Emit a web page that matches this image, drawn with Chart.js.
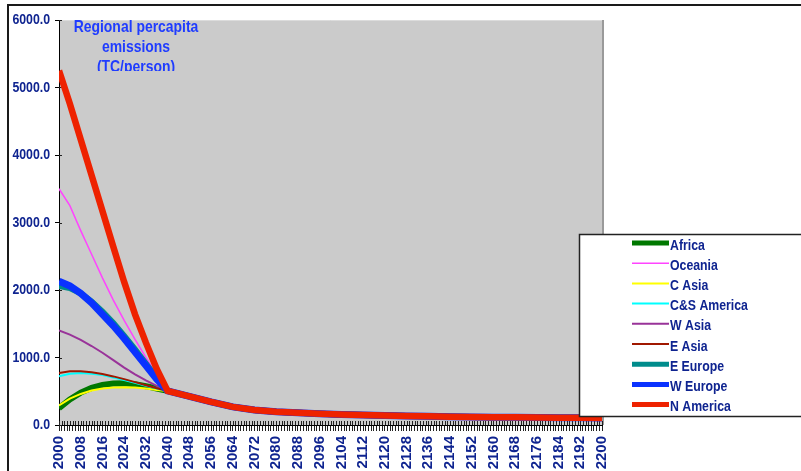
<!DOCTYPE html>
<html>
<head>
<meta charset="utf-8">
<script src="https://cdn.jsdelivr.net/npm/chart.js@4.4.1/dist/chart.umd.min.js"></script>
<style>
  html, body { margin: 0; padding: 0; background: #fff; }
  #wrap { width: 801px; height: 471px; position: relative; }
</style>
</head>
<body>
<div id="wrap"><canvas id="myChart" width="801" height="471"></canvas></div>
<script>
// years
const startYears = [2000, 2004, 2008, 2012, 2016, 2020, 2024, 2028, 2032, 2036, 2040];
const tailYears = [2048, 2056, 2064, 2072, 2080, 2088, 2096, 2104, 2112, 2120,
                   2128, 2136, 2144, 2152, 2160, 2168, 2176, 2184, 2192, 2200];
// after 2040 every region follows the same curve
const tailValues = [425, 342, 268, 222, 195, 180, 167, 157, 148, 140,
                    134, 128, 123, 119, 116, 113, 111, 109, 107, 105];

const regionNames = ["Africa", "Oceania", "C Asia", "C&S America", "W Asia", "E Asia", "E Europe", "W Europe", "N America"];
const africa    = [250, 380, 480, 550, 595, 615, 620, 605, 575, 540, 505];
const oceania   = [3500, 3250, 2880, 2530, 2180, 1850, 1550, 1270, 1000, 750, 505];
const cAsia     = [290, 390, 460, 510, 540, 555, 560, 555, 540, 520, 505];
const csAmerica = [720, 760, 770, 760, 740, 705, 665, 625, 580, 540, 505];
const wAsia     = [1400, 1340, 1260, 1170, 1070, 960, 850, 750, 660, 580, 505];
const eAsia     = [770, 795, 795, 780, 755, 720, 680, 635, 590, 545, 505];
const eEurope   = [2060, 2030, 1950, 1830, 1680, 1510, 1320, 1120, 910, 700, 505];
const wEurope   = [2130, 2060, 1950, 1810, 1640, 1470, 1280, 1080, 880, 680, 505];
const nAmerica  = [5250, 4760, 4230, 3700, 3170, 2640, 2120, 1640, 1220, 830, 505];

const yTicks = [0, 1000, 2000, 3000, 4000, 5000, 6000];

const colors = ['#007800', '#ff44ff', '#ffff00', '#00ffff', '#993399', '#a01800', '#008c8c', '#0a32ff', '#ee2200'];
const widths = [6, 1.5, 2, 2, 2, 2, 6, 7, 6.5];

const FONT = "'Liberation Sans', Arial, sans-serif";
const NAVY = '#0f2490';
const SQUEEZE = 0.82;   // the original uses a narrow bold face

function series(vals) {
    var pts = startYears.map(function(y, i) { return {x: y, y: vals[i]}; });
    return pts.concat(tailYears.map(function(y, i) { return {x: y, y: tailValues[i]}; }));
}

// draw text squeezed horizontally
function narrowText(c, txt, x, y, align) {
    c.save();
    c.translate(x, y);
    c.scale(SQUEEZE, 1);
    c.textAlign = align;
    c.fillText(txt, 0, 0);
    c.restore();
}

const allValues = [africa, oceania, cAsia, csAmerica, wAsia, eAsia, eEurope, wEurope, nAmerica];
var datasets = [];
for (var i = 0; i < regionNames.length; i++) {
    datasets.push({
        label: regionNames[i],
        data: series(allValues[i]),
        borderColor: colors[i],
        backgroundColor: colors[i],
        borderWidth: widths[i],
        pointRadius: 0,
        tension: 0,
        fill: false,
        order: regionNames.length - i   // later series on top, like the original
    });
}

const decor = {
    id: 'decor',
    beforeDraw(chart) {
        const c = chart.ctx, a = chart.chartArea;
        c.save();
        c.fillStyle = '#cbcbcb';
        c.fillRect(a.left, a.top, a.right - a.left, a.bottom - a.top);
        c.strokeStyle = '#dcdcdc';
        c.lineWidth = 1;
        c.beginPath(); c.moveTo(a.left, a.top + 0.5); c.lineTo(a.right, a.top + 0.5); c.stroke();
        c.strokeStyle = '#9a9a9a';
        c.lineWidth = 2;
        c.beginPath(); c.moveTo(a.right + 1, a.top); c.lineTo(a.right + 1, a.bottom); c.stroke();
        // outer frame
        c.strokeStyle = '#1a1a1a';
        c.lineWidth = 2;
        c.beginPath(); c.moveTo(801, 5); c.lineTo(8, 5); c.lineTo(8, 471); c.stroke();
        c.restore();
    },
    beforeDatasetsDraw(chart) {
        // small tick marks inside the plot along both axes
        const c = chart.ctx, a = chart.chartArea, xs = chart.scales.x, ys = chart.scales.y;
        c.save();
        c.strokeStyle = '#222';
        c.lineWidth = 1;
        c.beginPath();
        xs.ticks.forEach(function(t) {
            var px = Math.round(xs.getPixelForValue(t.value)) + 0.5;
            c.moveTo(px, a.bottom - 4);
            c.lineTo(px, a.bottom);
        });
        ys.ticks.forEach(function(t) {
            var py = Math.round(ys.getPixelForValue(t.value)) + 0.5;
            c.moveTo(a.left, py);
            c.lineTo(a.left + 3, py);
        });
        c.stroke();
        c.restore();
    },
    afterDraw(chart) {
        const c = chart.ctx, ys = chart.scales.y;
        c.save();
        // y tick labels in the narrow face
        c.fillStyle = NAVY;
        c.font = 'bold 15px ' + FONT;
        c.textBaseline = 'middle';
        ys.ticks.forEach(function(t) {
            narrowText(c, t.value.toFixed(1), 50, ys.getPixelForValue(t.value), 'right');
        });
        c.restore();

        c.save();
        // title, clipped like the original
        c.beginPath(); c.rect(60, 10, 200, 61); c.clip();
        c.fillStyle = '#1f3cff';
        c.font = 'bold 17px ' + FONT;
        c.textBaseline = 'middle';
        narrowText(c, 'Regional percapita', 136, 27, 'center');
        narrowText(c, 'emissions', 136, 47, 'center');
        narrowText(c, '(TC/person)', 136, 67, 'center');
        c.restore();

        // legend box
        c.save();
        c.fillStyle = '#fff';
        c.fillRect(579, 234, 230, 183);
        c.strokeStyle = '#222';
        c.lineWidth = 1.5;
        c.strokeRect(579.5, 234.5, 240, 182);
        c.font = 'bold 15px ' + FONT;
        c.textBaseline = 'middle';
        chart.data.datasets.forEach(function(ds, k) {
            var y = 245 + k * 20.2;
            c.strokeStyle = ds.borderColor;
            c.lineWidth = Math.min(ds.borderWidth, 5);
            c.beginPath(); c.moveTo(632, y - 2); c.lineTo(669, y - 2); c.stroke();
            c.fillStyle = NAVY;
            narrowText(c, ds.label, 670, y + 0.5, 'left');
        });
        c.restore();
    }
};

new Chart(document.getElementById('myChart'), {
    type: 'line',
    data: { datasets: datasets },
    options: {
        responsive: false,
        animation: false,
        layout: { padding: { left: 0, top: 20, right: 199, bottom: 0 } },
        plugins: {
            legend: { display: false },
            tooltip: { enabled: false }
        },
        scales: {
            x: {
                type: 'linear',
                min: 2000,
                max: 2200,
                afterFit: function(s) { s.height = 46; },
                border: { color: '#000', width: 1 },
                grid: { drawOnChartArea: false, color: '#222', tickLength: 6 },
                ticks: {
                    stepSize: 1,
                    autoSkip: false,
                    minRotation: 90,
                    maxRotation: 90,
                    padding: 5,
                    color: NAVY,
                    font: { family: FONT, size: 15, weight: 'bold' },
                    callback: function(v) { return (v - 2000) % 8 === 0 ? String(v) : ''; }
                }
            },
            y: {
                min: 0,
                max: 6000,
                afterFit: function(s) { s.width = 59; },
                afterBuildTicks: function(s) { s.ticks = yTicks.map(function(v) { return {value: v}; }); },
                border: { color: '#000', width: 1 },
                grid: { drawOnChartArea: false, color: '#000', tickLength: 4 },
                ticks: { display: false }
            }
        }
    },
    plugins: [decor]
});
</script>
</body>
</html>
